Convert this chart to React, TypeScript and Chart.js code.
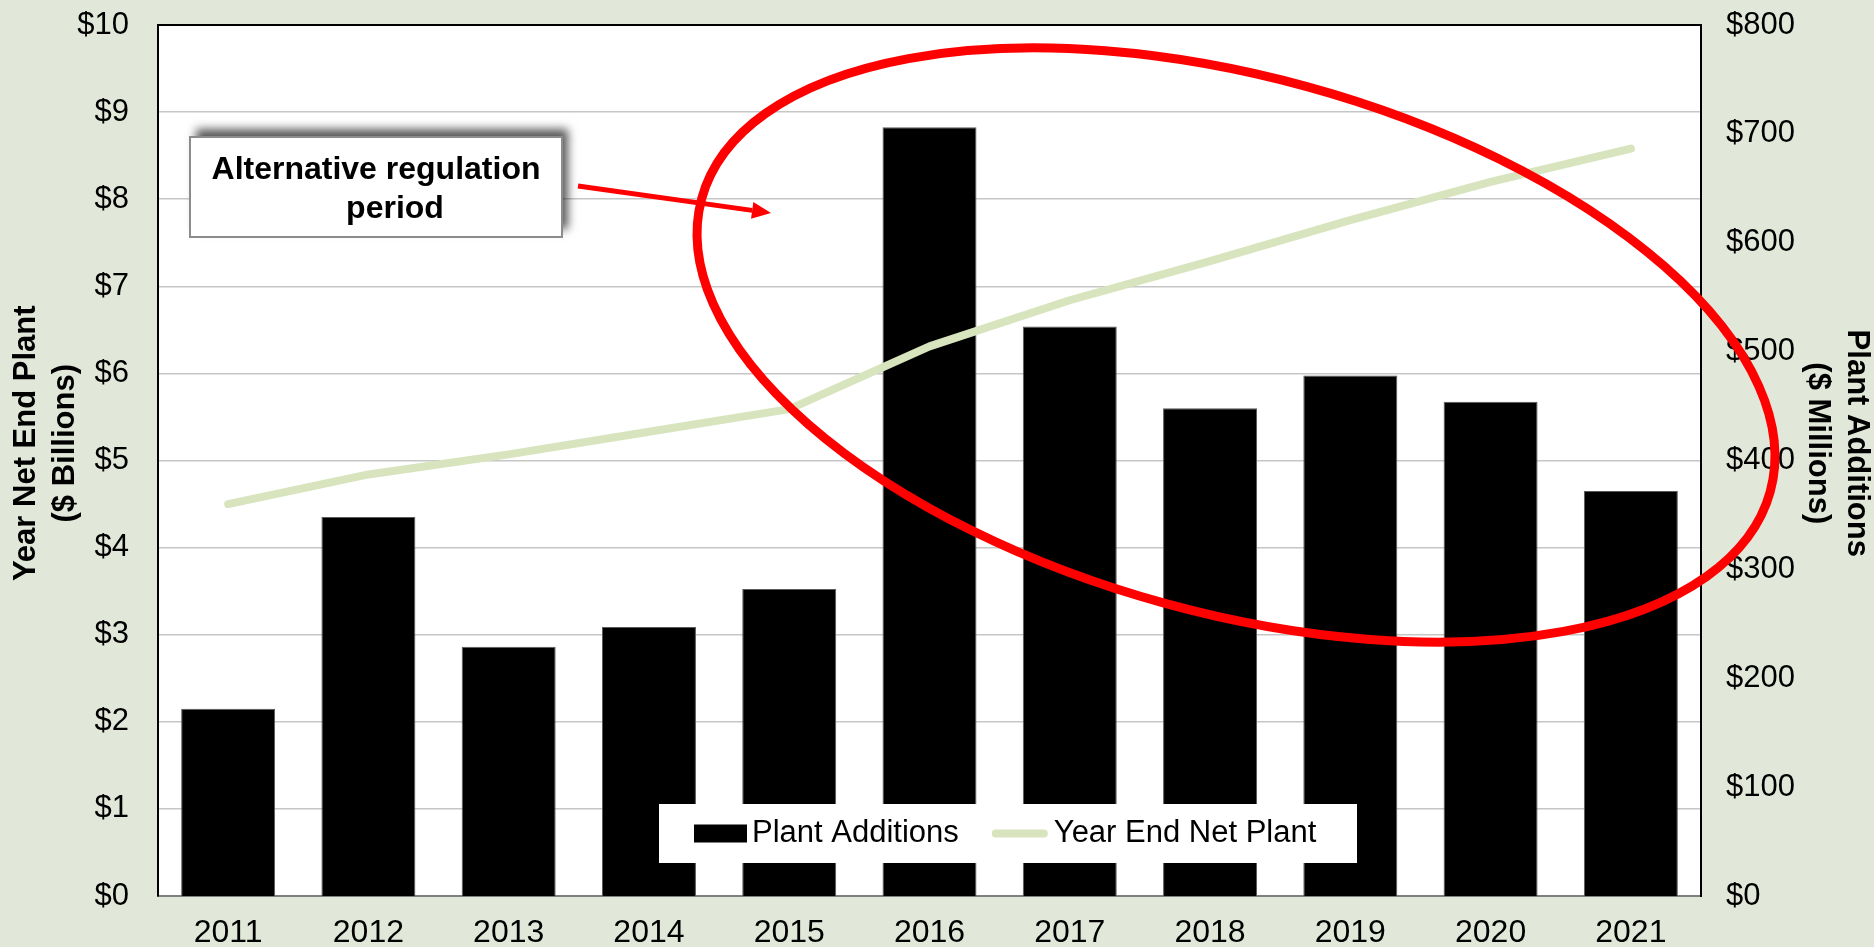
import { useEffect, useRef } from "react";
import { Chart, registerables } from "chart.js";

Chart.register(...registerables);

const FONT = "'Liberation Sans', Arial, Helvetica, sans-serif";
const BG = "#E1E8D9";
const LINE_COLOR = "#D7E4BD";

const years = ["2011", "2012", "2013", "2014", "2015", "2016", "2017", "2018", "2019", "2020", "2021"];
// Plant additions, $ millions (right axis)
const plantAdditions = [172, 348, 229, 247, 282, 706, 523, 448, 478, 454, 372];
// Year end net plant, $ billions (left axis)
const yearEndNetPlant = [4.5, 4.84, 5.07, 5.33, 5.59, 6.31, 6.84, 7.29, 7.76, 8.2, 8.58];

// leading / trailing spaces nudge the rotated titles upward like the original
const leftTitle = ["    Year Net End Plant", "    ($ Billions)"];
const rightTitle = ["Plant Additions    ", "($ Millions)    "];
const calloutLines = ["Alternative regulation", "period"];

const decorPlugin = {
  id: "decor",
  beforeDraw(chart: any) {
    const { ctx, chartArea: ca, width, height } = chart;
    ctx.save();
    ctx.fillStyle = BG;
    ctx.fillRect(0, 0, width, height);
    ctx.fillStyle = "#ffffff";
    ctx.fillRect(ca.left, ca.top, ca.right - ca.left, ca.bottom - ca.top);
    ctx.restore();
  },
  afterDraw(chart: any) {
    const { ctx, chartArea: ca } = chart;
    ctx.save();

    // top frame line
    ctx.strokeStyle = "#000";
    ctx.lineWidth = 2;
    ctx.beginPath();
    ctx.moveTo(ca.left - 1, ca.top);
    ctx.lineTo(ca.right + 1, ca.top);
    ctx.stroke();

    // legend
    const ds = chart.data.datasets;
    const lgX = ca.left + 501;
    const lgY = ca.top + 779;
    const lgW = 698;
    const lgH = 59;
    ctx.fillStyle = "#fff";
    ctx.fillRect(lgX, lgY, lgW, lgH);
    const cy = lgY + 29.5;
    ctx.font = `31px ${FONT}`;
    ctx.textBaseline = "middle";
    ctx.textAlign = "left";
    let x = lgX + 35;
    ctx.fillStyle = ds[0].backgroundColor;
    ctx.fillRect(x, cy - 9, 53, 18);
    x += 58;
    ctx.fillStyle = "#000";
    ctx.fillText(ds[0].label, x, cy);
    x += ctx.measureText(ds[0].label).width + 33;
    ctx.strokeStyle = ds[1].borderColor;
    ctx.lineWidth = 8;
    ctx.lineCap = "round";
    ctx.beginPath();
    ctx.moveTo(x + 4, cy);
    ctx.lineTo(x + 52, cy);
    ctx.stroke();
    x += 62;
    ctx.fillStyle = "#000";
    ctx.fillText(ds[1].label, x, cy);

    // callout box
    const bx = ca.left + 32;
    const by = ca.top + 112;
    const bw = 372;
    const bh = 100;
    ctx.save();
    ctx.shadowColor = "rgba(0,0,0,0.65)";
    ctx.shadowBlur = 9;
    ctx.shadowOffsetX = 6;
    ctx.shadowOffsetY = -8;
    ctx.fillStyle = "#fff";
    ctx.fillRect(bx, by, bw, bh);
    ctx.restore();
    ctx.strokeStyle = "#8c8c8c";
    ctx.lineWidth = 2;
    ctx.strokeRect(bx, by, bw, bh);
    ctx.fillStyle = "#000";
    ctx.font = `bold 32px ${FONT}`;
    ctx.textAlign = "center";
    ctx.textBaseline = "middle";
    ctx.fillText(calloutLines[0], bx + bw / 2, by + 33);
    ctx.fillText(calloutLines[1], bx + bw / 2 + 19, by + 72);

    // arrow
    const ax0 = ca.left + 420, ay0 = ca.top + 161;
    const ax1 = ca.left + 613, ay1 = ca.top + 188;
    const ang = Math.atan2(ay1 - ay0, ax1 - ax0);
    const headLen = 19;
    const headHalf = 8.5;
    ctx.strokeStyle = "#FF0000";
    ctx.fillStyle = "#FF0000";
    ctx.lineWidth = 5;
    ctx.lineCap = "butt";
    ctx.beginPath();
    ctx.moveTo(ax0, ay0);
    ctx.lineTo(ax1 - headLen * Math.cos(ang), ay1 - headLen * Math.sin(ang));
    ctx.stroke();
    ctx.beginPath();
    ctx.moveTo(ax1, ay1);
    ctx.lineTo(
      ax1 - headLen * Math.cos(ang) + headHalf * Math.sin(ang),
      ay1 - headLen * Math.sin(ang) - headHalf * Math.cos(ang)
    );
    ctx.lineTo(
      ax1 - headLen * Math.cos(ang) - headHalf * Math.sin(ang),
      ay1 - headLen * Math.sin(ang) + headHalf * Math.cos(ang)
    );
    ctx.closePath();
    ctx.fill();

    // ellipse
    ctx.lineWidth = 9;
    ctx.beginPath();
    ctx.ellipse(ca.left + 1078, ca.top + 320, 554, 268, (15.35 * Math.PI) / 180, 0, Math.PI * 2);
    ctx.stroke();

    ctx.restore();
  },
};

export default function App() {
  const ref = useRef<HTMLCanvasElement>(null);

  useEffect(() => {
    if (!ref.current) return;
    Chart.defaults.font.family = FONT;
    const chart = new Chart(ref.current, {
      type: "bar",
      data: {
        labels: years,
        datasets: [
          {
            type: "bar",
            label: "Plant Additions",
            data: plantAdditions,
            yAxisID: "y1",
            backgroundColor: "#000000",
            borderColor: "#5a5a5a",
            borderWidth: 1,
            barPercentage: 0.67,
            categoryPercentage: 1,
            order: 2,
          },
          {
            type: "line",
            label: "Year End Net Plant",
            data: yearEndNetPlant,
            yAxisID: "y",
            borderColor: LINE_COLOR,
            backgroundColor: LINE_COLOR,
            borderWidth: 8,
            pointRadius: 0,
            borderCapStyle: "round",
            borderJoinStyle: "round",
            tension: 0,
            order: 1,
          },
        ] as any,
      },
      plugins: [decorPlugin],
      options: {
        animation: false,
        responsive: false,
        layout: { padding: { top: 25, left: 0, right: 0, bottom: 0 } },
        plugins: {
          legend: { display: false },
          tooltip: { enabled: false },
        },
        scales: {
          x: {
            grid: { display: false, drawTicks: false },
            border: { color: "#7f7f7f", width: 2 },
            ticks: { color: "#000", font: { size: 32 }, padding: 18, maxRotation: 0, autoSkip: false },
            afterFit: (s: any) => {
              s.height = 51;
            },
          },
          y: {
            position: "left",
            min: 0,
            max: 10,
            ticks: {
              stepSize: 1,
              color: "#000",
              font: { size: 31 },
              padding: 29,
              callback: (v: any) => "$" + v,
            },
            grid: { color: "#C6C6C6", lineWidth: 1.5, drawTicks: false },
            border: { color: "#000", width: 2 },
            title: {
              display: true,
              text: leftTitle,
              color: "#000",
              font: { size: 31, weight: "bold", lineHeight: 1.25 },
              padding: { top: 7, bottom: 0 },
            },
            afterFit: (s: any) => {
              s.width = 158;
              s.paddingTop = 0;
              s.paddingBottom = 0;
            },
          },
          y1: {
            position: "right",
            min: 0,
            max: 800,
            ticks: {
              stepSize: 100,
              color: "#000",
              font: { size: 31 },
              padding: 25,
              callback: (v: any) => "$" + v,
            },
            grid: { display: false, drawTicks: false },
            border: { color: "#000", width: 2 },
            title: {
              display: true,
              text: rightTitle,
              color: "#000",
              font: { size: 31, weight: "bold", lineHeight: 1.25 },
              padding: { top: -2, bottom: 0 },
            },
            afterFit: (s: any) => {
              s.width = 173;
              s.paddingTop = 0;
              s.paddingBottom = 0;
            },
          },
        },
      } as any,
    });
    return () => chart.destroy();
  }, []);

  return (
    <div style={{ position: "fixed", left: 0, top: 0, width: 1874, height: 947, background: BG }}>
      <canvas ref={ref} width={1874} height={947} style={{ display: "block", width: 1874, height: 947 }} />
    </div>
  );
}
